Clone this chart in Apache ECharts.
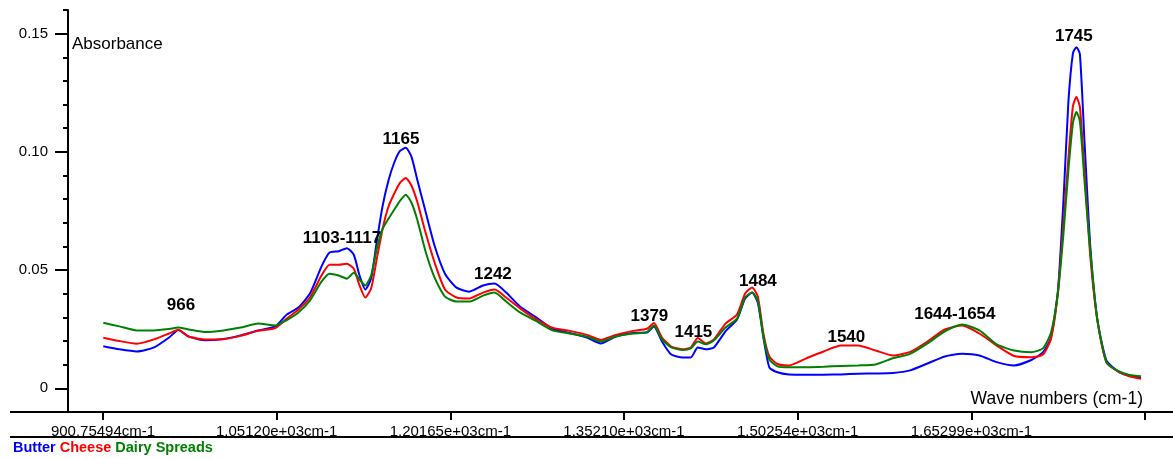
<!DOCTYPE html>
<html>
<head>
<meta charset="utf-8">
<script src="https://cdn.jsdelivr.net/npm/echarts@6/dist/echarts.min.js"></script>
<style>
  html, body { margin: 0; padding: 0; background: #fff; }
  #chart { width: 1173px; height: 459px; }
</style>
</head>
<body>
<div id="chart"></div>
<script>
// ---- data ----
const seriesNames = ['Butter', 'Cheese', 'Dairy Spreads'];
const seriesColors = ['#0000ff', '#ff0000', '#008000'];

const wavenumbers = [901, 915, 930, 945, 958, 966, 975, 990, 1005, 1020, 1035, 1050, 1060, 1070, 1080, 1090, 1097, 1105, 1112, 1118, 1123, 1128, 1133, 1138, 1143, 1148, 1153, 1158, 1163, 1168, 1173, 1180, 1188, 1197, 1207, 1218, 1230, 1240, 1250, 1262, 1275, 1290, 1305, 1320, 1332, 1345, 1360, 1372, 1378, 1385, 1393, 1403, 1410, 1416, 1423, 1430, 1440, 1450, 1457, 1463, 1468, 1473, 1478, 1485, 1495, 1510, 1525, 1540, 1555, 1570, 1585, 1600, 1615, 1630, 1645, 1660, 1675, 1690, 1705, 1715, 1722, 1728, 1733, 1737, 1741, 1744, 1747, 1751, 1756, 1762, 1770, 1780, 1790, 1800];

const butter = [0.0178,0.0165,0.0156,0.0173,0.0215,0.0247,0.0219,0.0203,0.0209,0.0224,
  0.0245,0.0262,0.0312,0.0342,0.0401,0.0515,0.0574,0.0580,0.0593,0.0565,
  0.0477,0.0418,0.0464,0.0624,0.0772,0.0878,0.0954,0.1004,0.1017,0.0979,
  0.0882,0.0751,0.0603,0.0485,0.0426,0.0409,0.0435,0.0443,0.0405,0.0346,
  0.0304,0.0253,0.0234,0.0215,0.0190,0.0219,0.0234,0.0236,0.0262,0.0198,
  0.0143,0.0131,0.0131,0.0173,0.0165,0.0173,0.0241,0.0291,0.0380,0.0405,
  0.0363,0.0211,0.0089,0.0068,0.0059,0.0058,0.0058,0.0059,0.0062,0.0063,
  0.0065,0.0076,0.0105,0.0135,0.0146,0.0139,0.0111,0.0097,0.0120,0.0152,
  0.0215,0.0414,0.0814,0.1207,0.1418,0.1443,0.1414,0.1046,0.0603,0.0295,
  0.0118,0.0072,0.0053,0.0045];

const cheese = [0.0214,0.0200,0.0189,0.0207,0.0232,0.0248,0.0219,0.0207,0.0208,0.0222,
  0.0243,0.0255,0.0295,0.0333,0.0384,0.0477,0.0523,0.0523,0.0527,0.0506,
  0.0435,0.0384,0.0422,0.0549,0.0675,0.0768,0.0823,0.0869,0.0890,0.0857,
  0.0789,0.0662,0.0532,0.0418,0.0384,0.0380,0.0405,0.0418,0.0384,0.0338,
  0.0295,0.0257,0.0243,0.0226,0.0205,0.0226,0.0243,0.0252,0.0276,0.0215,
  0.0177,0.0165,0.0173,0.0213,0.0190,0.0207,0.0274,0.0312,0.0401,0.0426,
  0.0388,0.0228,0.0135,0.0103,0.0097,0.0127,0.0156,0.0181,0.0181,0.0160,
  0.0139,0.0154,0.0198,0.0249,0.0266,0.0232,0.0181,0.0137,0.0132,0.0143,
  0.0211,0.0405,0.0709,0.0970,0.1194,0.1232,0.1190,0.0920,0.0561,0.0295,
  0.0110,0.0072,0.0051,0.0040];

const dairySpreads = [0.0277,0.0262,0.0245,0.0245,0.0251,0.0257,0.0249,0.0238,0.0245,0.0257,
  0.0274,0.0266,0.0289,0.0321,0.0371,0.0451,0.0485,0.0477,0.0464,0.0489,
  0.0460,0.0435,0.0477,0.0591,0.0675,0.0717,0.0755,0.0793,0.0819,0.0785,
  0.0713,0.0582,0.0468,0.0388,0.0367,0.0367,0.0392,0.0405,0.0367,0.0321,
  0.0287,0.0245,0.0232,0.0219,0.0198,0.0219,0.0232,0.0238,0.0266,0.0207,
  0.0173,0.0162,0.0169,0.0198,0.0186,0.0203,0.0257,0.0295,0.0384,0.0405,
  0.0371,0.0215,0.0122,0.0093,0.0089,0.0089,0.0091,0.0095,0.0097,0.0101,
  0.0127,0.0146,0.0190,0.0241,0.0270,0.0245,0.0186,0.0160,0.0153,0.0169,
  0.0236,0.0405,0.0667,0.0920,0.1122,0.1169,0.1131,0.0878,0.0582,0.0295,
  0.0110,0.0074,0.0057,0.0051];

const xTickValues = [900.75494, 1051.20, 1201.65, 1352.10, 1502.54, 1652.99, 1803.44];
const xTickLabels = ['900.75494cm-1', '1.05120e+03cm-1', '1.20165e+03cm-1', '1.35210e+03cm-1', '1.50254e+03cm-1', '1.65299e+03cm-1', ''];
const yTickValues = [0, 0.05, 0.10, 0.15];
const yTickLabels = ['0', '0.05', '0.10', '0.15'];
const yMinorTickValues = [-0.01, 0.01, 0.02, 0.03, 0.04, 0.06, 0.07, 0.08, 0.09, 0.11, 0.12, 0.13, 0.14, 0.16];

// peak annotations: text, wavenumber and absorbance where the text is centred
const peakLabels = ['966', '1103-1117', '1165', '1242', '1379', '1415', '1484', '1540', '1644-1654', '1745'];
const peakLabelWave = [968.3, 1107.8, 1158.9, 1238.5, 1374.1, 1412.2, 1468.1, 1544.7, 1638.7, 1741.8];
const peakLabelAbs = [0.0350, 0.0636, 0.1054, 0.0484, 0.0306, 0.0238, 0.0454, 0.0217, 0.0314, 0.1490];

const xName = 'Wave numbers (cm-1)';
const yName = 'Absorbance';

// ---- chart ----
const FONT = '"Liberation Sans", Arial, sans-serif';
const chart = echarts.init(document.getElementById('chart'), null, { renderer: 'canvas' });

const seriesData = [butter, cheese, dairySpreads];
const lineSeries = seriesData.map((vals, i) => ({
  name: seriesNames[i],
  type: 'line',
  data: wavenumbers.map((w, j) => [w, vals[j]]),
  showSymbol: false,
  smooth: 0.2,
  lineStyle: { color: seriesColors[i], width: 2 },
  itemStyle: { color: seriesColors[i] },
  z: 2 + i,
  silent: true
}));

const legendText = seriesNames.map((n, i) => '{s' + i + '|' + n + '}').join(' ');
const legendRich = {};
seriesColors.forEach((c, i) => {
  legendRich['s' + i] = { color: c, fontSize: 14.5, fontWeight: 'bold', fontFamily: FONT };
});

chart.setOption({
  animation: false,
  backgroundColor: '#ffffff',
  grid: { left: 68, right: 0, top: 10, bottom: 47, containLabel: false },
  title: {
    text: legendText,
    left: 13,
    top: 440,
    padding: 0,
    textStyle: { rich: legendRich, fontSize: 14.5, fontWeight: 'bold', fontFamily: FONT }
  },
  xAxis: {
    type: 'value',
    min: 870.43,
    max: 1827.68,
    splitLine: { show: false },
    axisLine: { show: true, onZero: false, lineStyle: { color: '#000', width: 2 } },
    axisTick: { show: true, length: 8, customValues: xTickValues, lineStyle: { color: '#000', width: 2 } },
    axisLabel: {
      customValues: xTickValues,
      margin: 12,
      color: '#000',
      fontSize: 15,
      fontFamily: FONT,
      formatter: v => xTickLabels[xTickValues.indexOf(v)] || ''
    }
  },
  yAxis: [{
    type: 'value',
    min: -0.01,
    max: 0.16,
    splitLine: { show: false },
    axisLine: { show: true, onZero: false, lineStyle: { color: '#000', width: 2 } },
    axisTick: { show: true, length: 13, customValues: yTickValues, lineStyle: { color: '#000', width: 2 } },
    axisLabel: {
      customValues: yTickValues,
      margin: 20,
      color: '#000',
      fontSize: 15,
      fontFamily: FONT,
      formatter: v => yTickLabels[yTickValues.indexOf(v)]
    }
  }, {
    type: 'value',
    min: -0.01,
    max: 0.16,
    position: 'left',
    splitLine: { show: false },
    axisLine: { show: false, onZero: false },
    axisTick: { show: true, length: 5, customValues: yMinorTickValues, lineStyle: { color: '#000', width: 2 } },
    axisLabel: { show: false }
  }],
  series: lineSeries.concat([{
    type: 'scatter',
    data: peakLabels.map((t, i) => ({ name: t, value: [peakLabelWave[i], peakLabelAbs[i]] })),
    symbolSize: 1,
    itemStyle: { color: 'rgba(255,255,255,0)' },
    silent: true,
    z: 10,
    label: {
      show: true,
      position: 'inside',
      formatter: p => p.name,
      color: '#000000',
      textBorderWidth: 0,
      opacity: 1,
      fontSize: 17,
      fontWeight: 'bold',
      fontFamily: FONT
    }
  }]),
  graphic: [
    { type: 'line', shape: { x1: 10, y1: 412, x2: 68, y2: 412 }, style: { stroke: '#000', lineWidth: 2 }, z: 5 },
    { type: 'line', shape: { x1: 10, y1: 437, x2: 1173, y2: 437 }, style: { stroke: '#000', lineWidth: 2 }, z: 5 },
    { type: 'text', x: 72, y: 44, style: { text: yName, fontSize: 17, fontFamily: FONT, fill: '#000', verticalAlign: 'middle', align: 'left' }, z: 5 },
    { type: 'text', x: 1143, y: 399, style: { text: xName, fontSize: 17.5, fontFamily: FONT, fill: '#000', verticalAlign: 'middle', align: 'right' }, z: 5 }
  ]
});
</script>
</body>
</html>
